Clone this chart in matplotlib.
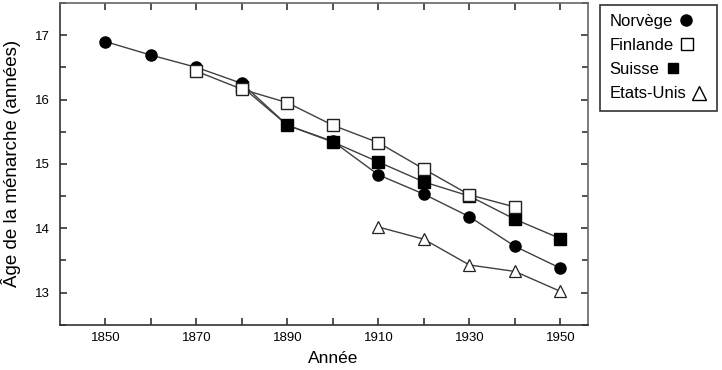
import matplotlib.pyplot as plt
from matplotlib.lines import Line2D

plt.rcParams['font.family'] = ['Liberation Sans', 'DejaVu Sans']

# data
years_no = [1850, 1860, 1870, 1880, 1890, 1900, 1910, 1920, 1930, 1940, 1950]
age_no = [16.9, 16.69, 16.5, 16.25, 15.6, 15.35, 14.83, 14.53, 14.18, 13.72, 13.38]

years_fi = [1870, 1880, 1890, 1900, 1910, 1920, 1930, 1940]
age_fi = [16.44, 16.16, 15.95, 15.6, 15.33, 14.92, 14.52, 14.33]

years_ch = [1880, 1890, 1900, 1910, 1920, 1930, 1940, 1950]
age_ch = [16.2, 15.6, 15.34, 15.03, 14.72, 14.5, 14.14, 13.84]

years_us = [1910, 1920, 1930, 1940, 1950]
age_us = [14.02, 13.83, 13.43, 13.33, 13.02]

labels = ['Norvège', 'Finlande', 'Suisse', 'Etats-Unis']

fig = plt.figure(figsize=(7.22, 3.70), dpi=100)
ax = fig.add_axes([0.083, 0.122, 0.731, 0.870])

lc = '#404040'
ms = 8
ax.plot(years_us, age_us, color=lc, lw=1.0, marker='^', ms=ms, mfc='white', mec='#222222', mew=0.9, zorder=2)
ax.plot(years_no, age_no, color=lc, lw=1.0, marker='o', ms=ms, mfc='black', mec='black', zorder=3)
ax.plot(years_ch, age_ch, color=lc, lw=1.0, marker='s', ms=ms, mfc='black', mec='black', zorder=4)
ax.plot(years_fi, age_fi, color=lc, lw=1.0, marker='s', ms=ms, mfc='white', mec='#222222', mew=1.0, zorder=5)

ax.set_xlim(1840, 1956)
ax.set_ylim(12.5, 17.5)
ax.set_xticks(range(1850, 1951, 10))
ax.set_xticklabels([str(y) if (y - 1850) % 20 == 0 else '' for y in range(1850, 1951, 10)])
ax.set_yticks([13, 14, 15, 16, 17])
ax.set_yticks([12.5, 13.5, 14.5, 15.5, 16.5, 17.5], minor=True)
ax.tick_params(which='both', direction='in', top=True, right=True, labelsize=9.5,
               color='#333333', width=1.2)
ax.tick_params(which='major', length=5)
ax.tick_params(which='minor', length=4)
ax.tick_params(axis='x', pad=5)
ax.tick_params(axis='y', pad=7)
for s in ax.spines.values():
    s.set_color('#333333')
    s.set_linewidth(1.2)
ax.spines['top'].set_color('#666666')
ax.spines['right'].set_color('#666666')

ax.set_xlabel('Année', fontsize=12.5)
ax.xaxis.set_label_coords(0.517, -0.08)
ax.set_ylabel('Âge de la ménarche (années)', fontsize=13.5)
ax.yaxis.set_label_coords(-0.074, 0.5)

handles = [
    Line2D([], [], ls='none', marker='o', ms=ms, mfc='black', mec='black'),
    Line2D([], [], ls='none', marker='s', ms=ms + 1, mfc='white', mec='black'),
    Line2D([], [], ls='none', marker='s', ms=ms - 1, mfc='black', mec='black'),
    Line2D([], [], ls='none', marker='^', ms=ms + 2, mfc='white', mec='black'),
]
leg = fig.legend(handles, labels, loc='upper right', bbox_to_anchor=(0.993, 0.987),
                 markerfirst=False, fontsize=12, frameon=True, fancybox=False,
                 handlelength=1.0, handletextpad=0.3, labelspacing=0.55,
                 borderpad=0.55, borderaxespad=0, edgecolor='black')
leg.get_frame().set_linewidth(1.2)
# text left aligned, marker right after it
for col in leg._legend_handle_box.get_children():
    col.align = 'left'

fig.savefig('out.png', dpi=100)
